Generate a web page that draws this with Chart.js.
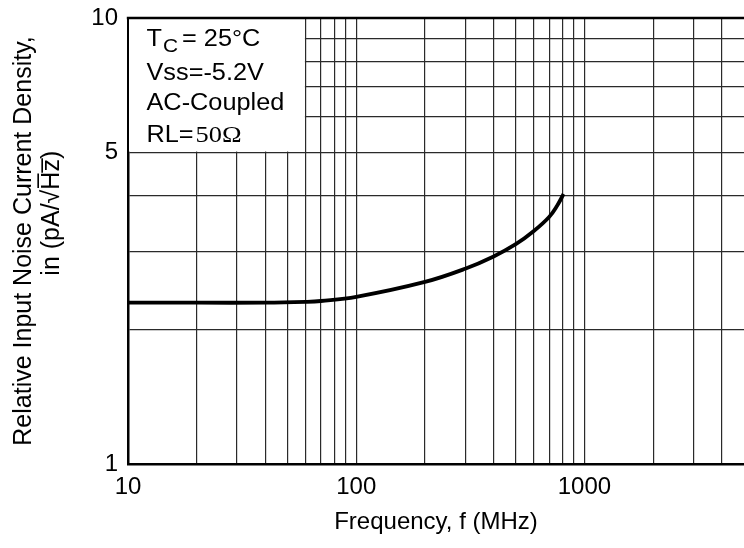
<!DOCTYPE html>
<html><head><meta charset="utf-8">
<script src="https://cdn.jsdelivr.net/npm/chart.js@4.4.1/dist/chart.umd.min.js"></script>
<style>html,body{margin:0;padding:0;background:#fff;}#wrap{width:744px;height:548px;}</style>
</head><body><div id="wrap"><canvas id="c" width="744" height="548"></canvas></div>
<script>
// ---- data ----
const frequencyMHz = [10, 20, 40, 60, 70, 100, 200, 300, 400, 500, 600, 700, 760, 810];
const noiseDensity = [2.30, 2.30, 2.30, 2.31, 2.32, 2.37, 2.56, 2.74, 2.92, 3.11, 3.33, 3.58, 3.80, 4.03];
const xGridTicks = [10,20,30,40,50,60,70,80,90,100,200,300,400,500,600,700,800,900,1000,2000,3000,4000];
const xTickLabels = [10, 100, 1000];
const yGridTicks = [1,2,3,4,5,6,7,8,9,10];
const yTickLabels = [1, 5, 10];
const xTitle = 'Frequency, f (MHz)';
const yTitle = ['Relative Input Noise Current Density,', '\u00a0\u00a0\u00a0\u00a0\u00a0\u00a0\u00a0\u00a0in (pA/\u221aH\u0305z\u0305)'];
const condTemp = ['T', 'C', '= 25\u00b0C'];
const condLines = ['Vss=-5.2V', 'AC-Coupled'];
const condLoad = ['RL=', '50\u03a9'];

const SANS = '"Liberation Sans", Arial, Helvetica, sans-serif';
const SERIF = '"Liberation Serif", "Times New Roman", serif';

function sText(ctx, txt, x, y, font, sx) {
  ctx.save();
  ctx.translate(x, y);
  ctx.scale(sx, 1);
  ctx.font = font;
  ctx.fillText(txt, 0, 0);
  const w = ctx.measureText(txt).width * sx;
  ctx.restore();
  return w;
}

const framePlugin = {
  id: 'framePlugin',
  beforeDatasetsDraw(chart) {
    const {ctx, chartArea: a, scales: {x, y}} = chart;
    const bx = x.getPixelForValue(60), by = y.getPixelForValue(5);
    ctx.save();
    ctx.fillStyle = '#fff';
    ctx.fillRect(a.left + 1, a.top + 1, bx - a.left - 1.7, by - a.top - 1.7);
    ctx.fillStyle = '#000';
    ctx.textBaseline = 'alphabetic';
    const sx = 1.1;
    const x0 = a.left + 18.5;
    let w = sText(ctx, condTemp[0], x0, a.top + 28, '23px ' + SANS, sx);
    let w2 = sText(ctx, condTemp[1], x0 + w + 1, a.top + 33.5, '19px ' + SANS, sx);
    sText(ctx, condTemp[2], x0 + w + w2 + 5, a.top + 28, '23px ' + SANS, sx);
    sText(ctx, condLines[0], x0, a.top + 62, '23px ' + SANS, sx);
    sText(ctx, condLines[1], x0, a.top + 92, '23px ' + SANS, sx);
    w = sText(ctx, condLoad[0], x0, a.top + 124, '23px ' + SANS, sx);
    sText(ctx, condLoad[1], x0 + w + 2, a.top + 124, '24px ' + SERIF, sx);
    ctx.restore();
  },
  afterDraw(chart) {
    const {ctx, chartArea: a} = chart;
    ctx.save();
    ctx.strokeStyle = '#000';
    ctx.lineWidth = 2.5;
    ctx.beginPath();
    ctx.moveTo(a.left - 1.2, a.top);
    ctx.lineTo(a.right, a.top);
    ctx.stroke();
    ctx.restore();
  }
};

new Chart(document.getElementById('c'), {
  type: 'line',
  data: {
    datasets: [{
      data: frequencyMHz.map((f, i) => ({x: f, y: noiseDensity[i]})),
      borderColor: '#000',
      borderWidth: 3.8,
      pointRadius: 0,
      fill: false,
      tension: 0.4
    }]
  },
  options: {
    responsive: false,
    animation: false,
    devicePixelRatio: 1,
    layout: {padding: {top: 18, left: 0, right: 0, bottom: 0}},
    plugins: {legend: {display: false}, tooltip: {enabled: false}},
    scales: {
      x: {
        type: 'logarithmic', min: 10, max: 5000,
        afterBuildTicks: s => { s.ticks = xGridTicks.map(v => ({value: v})); },
        afterFit: s => { s.height = 84; s.paddingLeft = 0; s.paddingRight = 0; },
        ticks: {
          autoSkip: false, maxRotation: 0, minRotation: 0, padding: 9, color: '#000',
          font: {family: SANS, size: 24},
          callback: v => xTickLabels.includes(v) ? String(v) : ''
        },
        grid: {color: '#2a2a2a', lineWidth: 1.2, drawTicks: false},
        border: {display: true, color: '#000', width: 2.5},
        title: {display: true, text: xTitle, color: '#000', font: {family: SANS, size: 24}, padding: {top: 0, bottom: 11}}
      },
      y: {
        type: 'logarithmic', min: 1, max: 10,
        afterBuildTicks: s => { s.ticks = yGridTicks.map(v => ({value: v})); },
        afterFit: s => { s.width = 128; s.paddingTop = 0; s.paddingBottom = 0; },
        ticks: {
          autoSkip: false, padding: 10, color: '#000',
          font: {family: SANS, size: 24},
          callback: v => yTickLabels.includes(v) ? String(v) : ''
        },
        grid: {color: '#2a2a2a', lineWidth: 1.2, drawTicks: false},
        border: {display: true, color: '#000', width: 2.5},
        title: {display: true, text: yTitle, color: '#000', font: {family: SANS, size: 25, lineHeight: 1.12}, padding: {top: 10, bottom: 0}}
      }
    }
  },
  plugins: [framePlugin]
});
</script>
</body></html>
